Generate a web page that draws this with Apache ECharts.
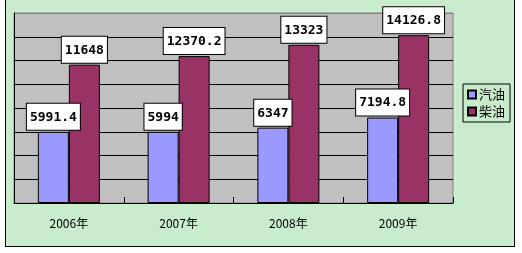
<!DOCTYPE html>
<html><head><meta charset="utf-8">
<script src="https://cdn.jsdelivr.net/npm/echarts@6/dist/echarts.min.js"></script>
<style>
html,body{margin:0;padding:0;background:#fff;}
#frame{position:absolute;left:5px;top:-1px;width:508px;height:246px;border:1px solid #000;background:#C9ECCD;}
#chart{position:absolute;left:0;top:0;width:522px;height:253px;}
</style></head>
<body>
<div id="frame"></div>
<div id="chart"></div>
<script>
const categories = ['2006年', '2007年', '2008年', '2009年'];
const seriesNames = ['汽油', '柴油'];
const gasoline = [5991.4, 5994, 6347, 7194.8];
const diesel = [11648, 12370.2, 13323, 14126.8];

const chart = echarts.init(document.getElementById('chart'), null, {renderer: 'canvas'});
const labelStyle = {
  show: true, position: 'top', distance: 2,
  backgroundColor: '#fff', borderColor: '#000', borderWidth: 1,
  padding: [7, 3, 6, 3],
  fontFamily: 'DejaVu Sans Mono', fontWeight: 'bold', fontSize: 13, color: '#000'
};
chart.setOption({
  animation: false,
  backgroundColor: 'transparent',
  grid: {left: 14, top: 13, right: 69, bottom: 50, show: true,
    backgroundColor: '#C0C0C0', borderColor: '#808080', borderWidth: 1},
  legend: {
    orient: 'vertical', left: 463, top: 84,
    data: seriesNames,
    itemWidth: 8, itemHeight: 8, itemGap: 4,
    padding: [4, 5, 4, 4],
    borderColor: '#000', borderWidth: 1,
    icon: 'rect',
    textStyle: {fontFamily: 'Noto Sans CJK SC', fontSize: 13, color: '#000', padding: [0, 0, 0, -2]}
  },
  xAxis: {
    type: 'category', data: categories,
    axisLine: {lineStyle: {color: '#000', width: 1}},
    axisTick: {show: true, inside: true, length: 6, lineStyle: {color: '#000'}},
    axisLabel: {margin: 14, fontFamily: 'Noto Sans CJK SC', fontSize: 12, color: '#000'}
  },
  yAxis: {
    type: 'value', min: 0, max: 16000, interval: 2000,
    axisLine: {show: true, lineStyle: {color: '#000'}},
    axisTick: {show: false},
    axisLabel: {show: false},
    splitLine: {show: true, lineStyle: {color: ['#000', '#000', '#000', '#000', '#000', '#000', '#000', '#000', '#808080'], width: 1}}
  },
  series: [
    {name: seriesNames[0], type: 'bar', data: gasoline, barWidth: 31, barGap: '0%',
      itemStyle: {color: '#9999FF', borderColor: '#000', borderWidth: 1},
      label: labelStyle},
    {name: seriesNames[1], type: 'bar', data: diesel, barWidth: 31, barGap: '0%',
      itemStyle: {color: '#993366', borderColor: '#000', borderWidth: 1},
      label: labelStyle}
  ]
});
</script>
</body></html>
